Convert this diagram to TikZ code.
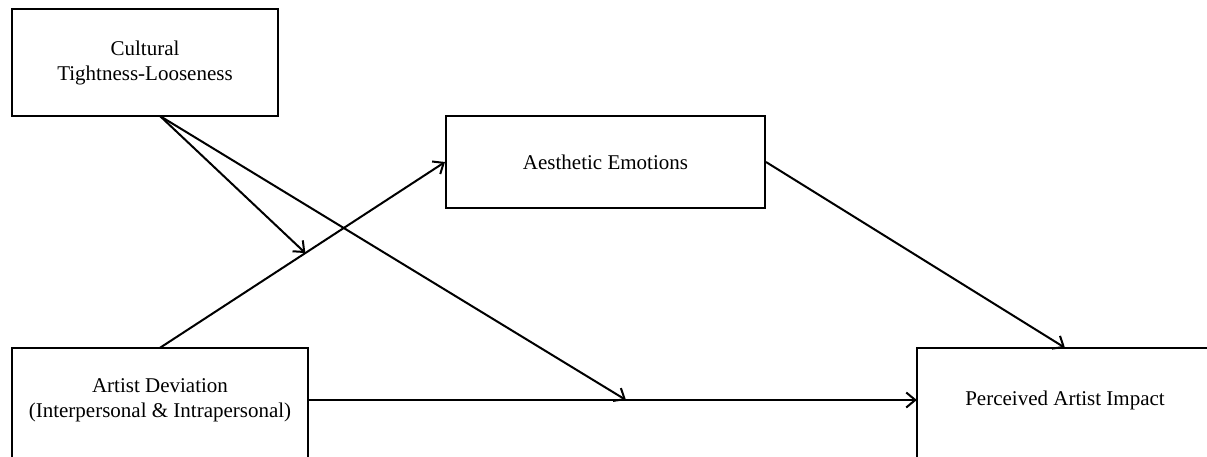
\documentclass[tikz,border=0pt]{standalone}
\usepackage{fontspec}
\setmainfont{Liberation Serif}
\usetikzlibrary{arrows.meta,calc}
\begin{document}
\begin{tikzpicture}[x=1pt,y=-1pt,
  box/.style={draw=black, line width=2pt, inner sep=0pt, align=center, font=\fontsize{21}{25}\selectfont},
  openbox/.style={inner sep=0pt, align=center, font=\fontsize{21}{25}\selectfont},
  frame/.style={draw=black, line width=2pt},
  conn/.style={draw=black, line width=2pt, -{Straight Barb[length=9pt,width=15pt,line width=2pt]}}]
\useasboundingbox (0,0) rectangle (1207,456);
\clip (0,0) rectangle (1207,456);
\node[box, minimum width=266pt, minimum height=107pt] (CTL) at (145,62.5) {Cultural\\Tightness-Looseness};
\node[box, minimum width=319pt, minimum height=92pt] (AE) at (605.5,162) {Aesthetic Emotions};
\node[openbox, minimum width=296pt, minimum height=104pt] (AD) at (160,400) {Artist Deviation\\(Interpersonal \& Intrapersonal)};
\node[openbox, minimum width=296pt, minimum height=104pt] (PAI) at (1065,400) {Perceived Artist Impact};
\draw[frame] ([yshift=-30pt]AD.south west) -- (AD.north west) -- (AD.north east) -- ([yshift=-30pt]AD.south east);
\draw[frame] ([yshift=-30pt]PAI.south west) -- (PAI.north west) -- (PAI.north east) -- ([yshift=-30pt]PAI.south east);
\coordinate (ctlout) at (160,116);
\coordinate (mod1) at ($(AD.north)!0.51!(AE.west)$);
\coordinate (mod2) at (626,400);
\draw[conn] (AD.north) -- (AE.west);
\draw[conn] (AE.east) -- (PAI.north);
\draw[conn] (AD.east) -- (PAI.west);
\draw[conn] (ctlout) -- (mod1);
\draw[conn] (ctlout) -- (mod2);
\end{tikzpicture}
\end{document}
